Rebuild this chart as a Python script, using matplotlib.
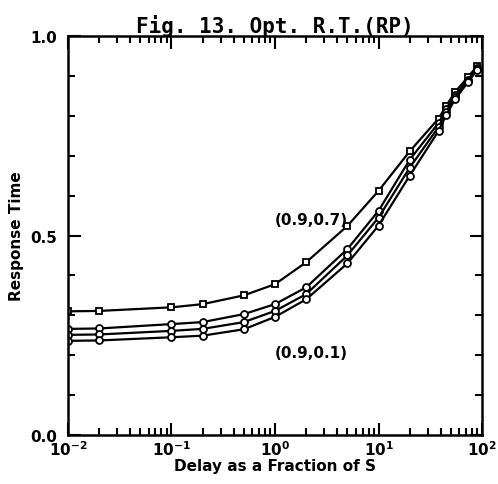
import numpy as np
import matplotlib
matplotlib.use("Agg")
import matplotlib.pyplot as plt
from matplotlib.ticker import LogLocator, MultipleLocator, NullFormatter

# delay as a fraction of S
delay = [0.01, 0.02, 0.1, 0.2, 0.5, 1, 2, 5, 10, 20, 38, 45, 55, 73, 90]

# response time curves
rt_07 = [0.310, 0.311, 0.320, 0.328, 0.350, 0.378, 0.433, 0.524, 0.612, 0.711, 0.793, 0.825, 0.860, 0.897, 0.925]
rt_a = [0.266, 0.267, 0.278, 0.283, 0.303, 0.328, 0.370, 0.466, 0.562, 0.690, 0.782, 0.818, 0.852, 0.890, 0.920]
rt_b = [0.251, 0.252, 0.261, 0.266, 0.283, 0.311, 0.353, 0.450, 0.545, 0.670, 0.772, 0.810, 0.847, 0.887, 0.918]
rt_01 = [0.236, 0.237, 0.245, 0.249, 0.265, 0.296, 0.340, 0.430, 0.525, 0.650, 0.762, 0.802, 0.842, 0.884, 0.916]

plt.rcParams['font.family'] = 'DejaVu Sans'
plt.rcParams['font.weight'] = 'bold'
plt.rcParams['mathtext.default'] = 'bf'

fig = plt.figure(figsize=(4.98, 4.85), dpi=100)
ax = fig.add_axes([0.1365, 0.101, 0.8315, 0.8227])

kw = dict(color='black', lw=1.6, mfc='white', mec='black', mew=1.3, ms=5)
ax.plot(delay, rt_07, marker='s', **kw)
ax.plot(delay, rt_a, marker='o', **kw)
ax.plot(delay, rt_b, marker='o', **kw)
ax.plot(delay, rt_01, marker='o', **kw)

ax.set_xscale('log')
ax.set_xlim(0.01, 100)
ax.set_ylim(0, 1.0)

ax.xaxis.set_major_locator(LogLocator(base=10, numticks=10))
ax.xaxis.set_minor_locator(LogLocator(base=10, subs=np.arange(2, 10), numticks=20))
ax.xaxis.set_minor_formatter(NullFormatter())
ax.yaxis.set_minor_locator(MultipleLocator(0.1))
ax.set_yticks([0, 0.5, 1.0])
ax.set_yticklabels(['0.0', '0.5', '1.0'])

ax.tick_params(which='both', direction='in', top=True, right=True, width=1.5, labelsize=11)
ax.tick_params(which='major', length=9)
ax.tick_params(which='minor', length=5)
ax.tick_params(axis='x', pad=3)
ax.tick_params(axis='y', pad=8)
for s in ax.spines.values():
    s.set_linewidth(1.8)

ax.text(1.0, 0.53, '(0.9,0.7)', fontsize=11, fontweight='bold')
ax.text(1.0, 0.195, '(0.9,0.1)', fontsize=11, fontweight='bold')

ax.set_xlabel('Delay as a Fraction of S', fontsize=11, fontweight='bold', labelpad=0)
ax.set_ylabel('Response Time', fontsize=11, fontweight='bold', labelpad=4)
ax.set_title('Fig. 13. Opt. R.T.(RP)', fontsize=15, fontweight='bold',
             family='DejaVu Sans Mono', pad=3)

fig.savefig('out.png', dpi=100)
